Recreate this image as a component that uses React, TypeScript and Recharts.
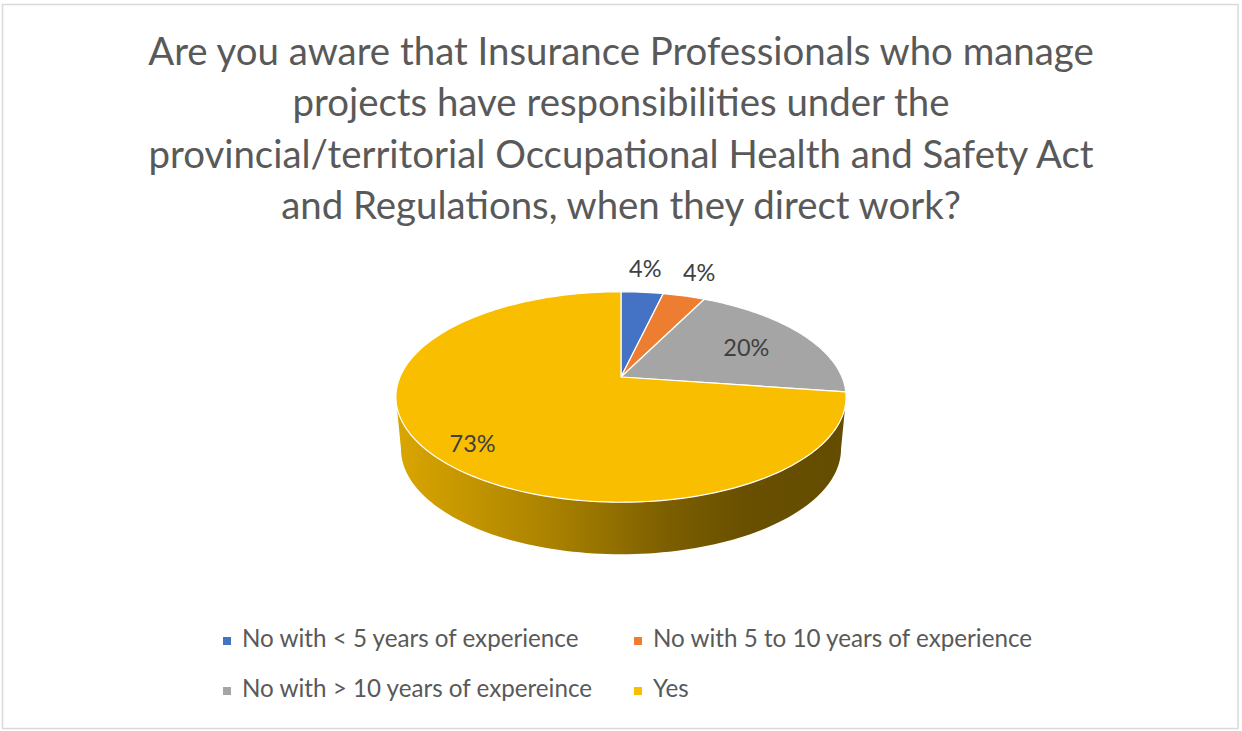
import { PieChart, Pie, Legend } from 'recharts';

const categories = [
  'No with < 5 years of experience',
  'No with 5 to 10 years of experience',
  'No with > 10 years of expereince',
  'Yes',
];
const responses = [2, 2, 11, 40];
const colors = ['#4472C4', '#ED7D31', '#A5A5A5', '#F9BE00'];
const titleLines = [
  'Are you aware that Insurance Professionals who manage',
  'projects have responsibilities under the',
  'provincial/territorial Occupational Health and Safety Act',
  'and Regulations, when they direct work?',
];

const data = categories.map((name, i) => ({ name, value: responses[i], fill: colors[i] }));

const FONT = 'Lato, "Open Sans", sans-serif';
const TEXT_COLOR = '#595959';

// fake 3D: vertical squash + a bit of perspective (far side shrinks)
const TILT = 0.459;
const PERSP = 0.19;
const DEPTH = 52;

const project = (cx: number, cy: number, r: number, deg: number, f = 1, bottom = false) => {
  const a = (deg * Math.PI) / 180;
  const u = f * Math.cos(a);
  const v = f * Math.sin(a);
  const d = 1 + PERSP * v;
  const rx = bottom ? r - 5 : r;
  return [cx + (rx * u) / d, cy - (r * TILT * v) / d + (bottom ? DEPTH : 0)];
};

// angles where the rim turns (left/right extremes of the top ellipse)
const frontRange = (cx: number, cy: number, r: number) => {
  let minX = Infinity, maxX = -Infinity, left = -180, right = 0;
  for (let deg = -200; deg <= 20; deg += 0.25) {
    const [x] = project(cx, cy, r, deg);
    if (x < minX) { minX = x; left = deg; }
    if (x > maxX) { maxX = x; right = deg; }
  }
  return [left, right];
};

const shade = (hex: string, k: number) => {
  const n = parseInt(hex.slice(1), 16);
  const c = [(n >> 16) & 255, (n >> 8) & 255, n & 255].map((v) => Math.round(v * k));
  return `rgb(${c[0]},${c[1]},${c[2]})`;
};

const arcPoints = (cx: number, cy: number, r: number, from: number, to: number, bottom = false) => {
  const pts: number[][] = [];
  const n = Math.max(2, Math.ceil(Math.abs(to - from) / 1.5));
  for (let i = 0; i <= n; i++) {
    pts.push(project(cx, cy, r, from + ((to - from) * i) / n, 1, bottom));
  }
  return pts;
};

const Slice3D = (props: any) => {
  const { cx, cy, outerRadius, startAngle, endAngle, fill } = props;
  const hi = Math.max(startAngle, endAngle);
  const lo = Math.min(startAngle, endAngle);
  const [fl, fr] = frontRange(cx, cy, outerRadius);

  // visible part of the side wall for this slice
  let side: JSX.Element | null = null;
  for (const shift of [0, -360, 360]) {
    const a = Math.max(lo, fl + shift);
    const b = Math.min(hi, fr + shift);
    if (b > a) {
      const top = arcPoints(cx, cy, outerRadius, a, b);
      const bot = arcPoints(cx, cy, outerRadius, b, a, true);
      const d =
        'M' + top.map((p) => p.join(',')).join(' L') +
        ' L' + bot.map((p) => p.join(',')).join(' L') + ' Z';
      const id = `side-${fill.slice(1)}`;
      side = (
        <g>
          <defs>
            <linearGradient id={id} gradientUnits="userSpaceOnUse" x1={cx - outerRadius} x2={cx + outerRadius} y1={0} y2={0}>
              <stop offset="0" stopColor={shade(fill, 0.87)} />
              <stop offset="0.35" stopColor={shade(fill, 0.68)} />
              <stop offset="0.6" stopColor={shade(fill, 0.5)} />
              <stop offset="0.78" stopColor={shade(fill, 0.42)} />
              <stop offset="1" stopColor={shade(fill, 0.4)} />
            </linearGradient>
          </defs>
          <path d={d} fill={`url(#${id})`} />
        </g>
      );
    }
  }

  const rim = arcPoints(cx, cy, outerRadius, startAngle, endAngle);
  const face = `M${cx},${cy} L` + rim.map((p) => p.join(',')).join(' L') + ' Z';
  return (
    <g>
      {side}
      <path d={face} fill={fill} stroke="#fff" strokeWidth={1.2} strokeLinejoin="round" />
    </g>
  );
};

const renderLabel = (props: any) => {
  const { cx, cy, midAngle, outerRadius, percent } = props;
  // small slices get their label outside, the big one sits a bit lower like Excel does
  const f = percent < 0.1 ? 1.36 : percent > 0.5 ? 0.8 : 0.68;
  const dy = percent > 0.5 ? 7 : 0;
  const [x, y] = project(cx, cy, outerRadius, midAngle, f);
  return (
    <text x={x - (percent < 0.1 ? 3 : 0)} y={y + dy} textAnchor="middle" dominantBaseline="central" fill="#404040" fontSize={23.5} fontFamily={FONT}>
      {`${Math.round(percent * 100)}%`}
    </text>
  );
};

const renderLegend = (props: any) => {
  const payload = [...(props.payload || [])].sort(
    (a: any, b: any) => categories.indexOf(a.value) - categories.indexOf(b.value)
  );
  return (
    <svg width={1242} height={100} style={{ display: 'block' }}>
      {payload.map((entry: any, i: number) => {
        const x = i % 2 ? 634 : 223;
        const base = 27 + Math.floor(i / 2) * 50;
        return (
          <g key={entry.value}>
            <rect x={x} y={base - 10} width={8} height={8} fill={entry.color} />
            <text x={x + 19} y={base} fill={TEXT_COLOR} fontSize={24.2} fontFamily={FONT}>
              {entry.value}
            </text>
          </g>
        );
      })}
    </svg>
  );
};

export default function App() {
  return (
    <div style={{ position: 'relative', width: 1242, height: 731, background: '#fff' }}>
      <style>{'body{margin:0}'}</style>
      <PieChart width={1242} height={731} margin={{ top: 0, right: 0, bottom: 0, left: 0 }}>
        <Pie
          data={data}
          dataKey="value"
          nameKey="name"
          cx={621}
          cy={377}
          outerRadius={221}
          startAngle={90}
          endAngle={-270}
          shape={Slice3D}
          label={renderLabel}
          labelLine={false}
          isAnimationActive={false}
        />
        <Legend
          content={renderLegend}
          verticalAlign="bottom"
          wrapperStyle={{ left: 0, top: 620, width: 1242, height: 100 }}
        />
      </PieChart>
      <svg width={1242} height={731} style={{ position: 'absolute', left: 0, top: 0, pointerEvents: 'none' }}>
        <rect x={2.5} y={4.5} width={1235.5} height={724} fill="none" stroke="#d9d9d9" strokeWidth={1.5} />
        {titleLines.map((line, i) => (
          <text key={i} x={621} y={65 + i * 51.3} textAnchor="middle" fill={TEXT_COLOR} fontSize={38.4} fontFamily={FONT}>
            {line}
          </text>
        ))}
      </svg>
    </div>
  );
}
